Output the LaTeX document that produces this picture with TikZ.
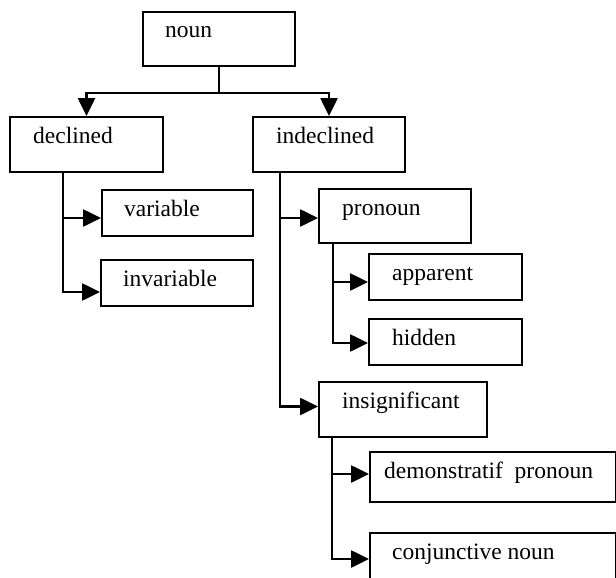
\documentclass[tikz,border=0pt]{standalone}
\usepackage{fontspec}
\setmainfont{Liberation Serif}
\usetikzlibrary{arrows.meta,calc}
\newcommand\mybox[7]{%
  \node[box, minimum width=#4pt, minimum height=#5pt] (#1) at (#2,#3) {};
  \node[lbl] (#1-t) at ($(#1.north west)+(#6,27)$) {#7};}
\begin{document}
\begin{tikzpicture}[x=1pt,y=-1pt,
  box/.style={draw, line width=2pt, inner sep=0pt, anchor=north west},
  lbl/.style={anchor=base west, inner sep=0pt, font=\fontsize{23.5}{28}\selectfont},
  con/.style={line width=2.6pt},
  arr/.style={line width=2.6pt, -{Triangle[length=18pt,width=17pt]}}]
\useasboundingbox (0,0) rectangle (616,578);
\clip (0,0) rectangle (616,578);
\mybox{noun}{142}{11}{152}{54}{23}{noun}
\mybox{declined}{9}{116}{153}{55}{24}{declined}
\mybox{indeclined}{252}{116}{152}{55}{24}{indeclined}
\mybox{variable}{101}{189}{151}{46}{23}{variable}
\mybox{invariable}{100}{259}{152}{46}{23}{invariable}
\mybox{pronoun}{318}{188}{152}{54}{24}{pronoun}
\mybox{apparent}{368}{253}{153}{46}{24}{apparent}
\mybox{hidden}{368}{318}{153}{46}{24}{hidden}
\mybox{insignificant}{318}{381}{168}{55}{24}{insignificant}
\mybox{demonstratif}{369}{451}{246}{50}{15}{demonstratif\ \ pronoun}
\mybox{conjunctive}{369}{532}{246}{58}{23}{conjunctive noun}
% connectors
\draw[con] (noun.south) -- ++(0,26) coordinate (j0);
\draw[arr] (j0) -| (declined.north);
\draw[arr] (j0) -| (indeclined.north);
\coordinate (d0) at ($(declined.south west)+(54,0)$);
\draw[arr] (d0) |- ([yshift=-5pt]variable.west);
\draw[arr] (d0) |- ([yshift=-9pt]invariable.west);
\coordinate (i0) at ($(indeclined.south west)+(28,0)$);
\draw[arr] (i0) |- ([yshift=-2pt]pronoun.west);
\draw[arr] (i0) |- ([yshift=3pt]insignificant.west);
\coordinate (p0) at ($(pronoun.south west)+(15,0)$);
\draw[arr] (p0) |- ([yshift=-5pt]apparent.west);
\draw[arr] (p0) |- ([yshift=-1pt]hidden.west);
\coordinate (s0) at ($(insignificant.south west)+(14,0)$);
\draw[arr] (s0) |- ([yshift=3pt]demonstratif.west);
\draw[arr] (s0) |- ([yshift=3pt]conjunctive.west);
\end{tikzpicture}
\end{document}
